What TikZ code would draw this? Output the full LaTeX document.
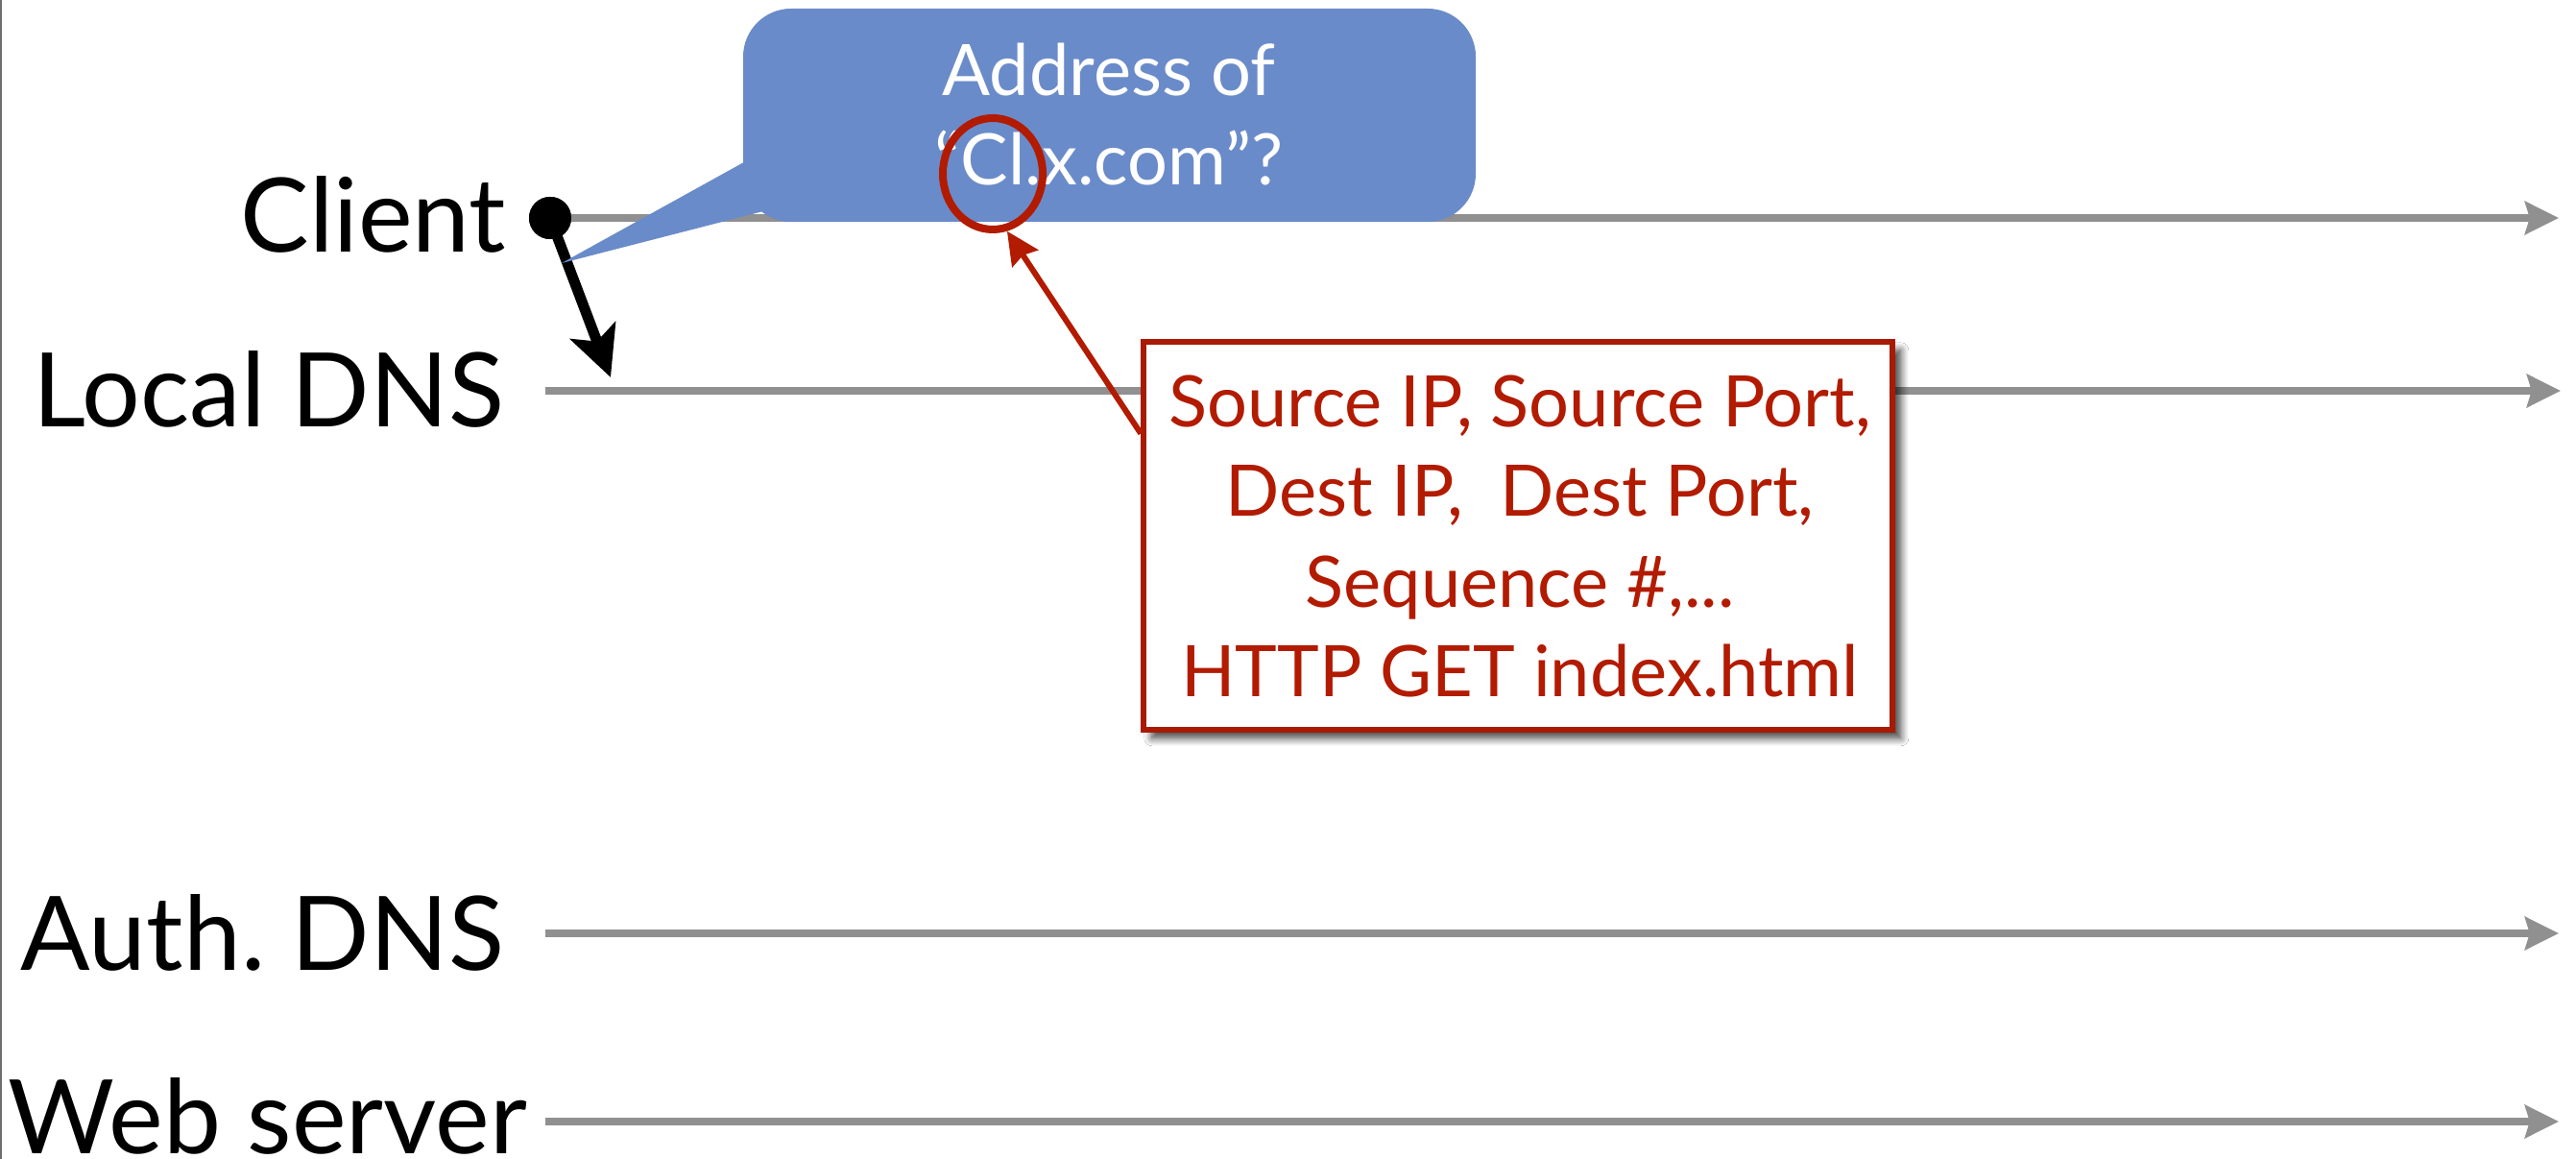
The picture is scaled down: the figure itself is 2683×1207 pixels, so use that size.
\documentclass[tikz,border=0pt]{standalone}
\usepackage{fontspec}
\setmainfont{Lato}
\usetikzlibrary{arrows.meta,shadows,shadows.blur,calc,shapes.geometric}
\definecolor{lanegray}{HTML}{909090}
\definecolor{callblue}{HTML}{6A8BC9}
\definecolor{pktred}{HTML}{B21B00}
\definecolor{pktborder}{HTML}{A81A02}
\definecolor{framegray}{HTML}{6E6E6E}
\frenchspacing

\begin{document}
\begin{tikzpicture}[x=0.25pt,y=-0.25pt,
  lane/.style={draw=lanegray, line width=1.9pt,
    -{Stealth[length=8.75pt,width=8.5pt,inset=1.2pt]}},
  lbl/.style={font=\fontsize{26.8}{30}\selectfont, anchor=base east, inner sep=0pt},
  qtext/.style={font=\fontsize{18.5}{22}\selectfont, text=white, anchor=base, inner sep=0pt},
  ptext/.style={font=\fontsize{18.5}{22}\selectfont, text=pktred, anchor=base, inner sep=0pt},
  msg/.style={draw=black, line width=2.75pt,
    -{Stealth[length=13pt,width=12.5pt,inset=3pt]}},
  pointer/.style={draw=pktred, line width=1.5pt,
    -{Stealth[length=8.5pt,width=8pt,inset=1pt]}}]
\useasboundingbox (0,0) rectangle (2683,1207);
\fill[white] (0,0) rectangle (2683,1207);
\draw[framegray, line width=0.6pt] (1.2,0) -- (1.2,1207);

% participant names
\node[lbl] (tclient) at (528,263) {Client};
\node[lbl] (tlocal)  at (526,445) {Local DNS};
\node[lbl] (tauth)   at (526,1010) {Auth. DNS};
\node[lbl, text depth=0pt] (tweb) at (550,1201) {Web server};

% time lines
\node[circle, fill=black, minimum size=11pt, inner sep=0pt] (dot) at (573,227) {};
\coordinate (cEnd)   at (2665,227);
\coordinate (lStart) at (568,407);
\coordinate (lEnd)   at (2667,407);
\coordinate (aStart) at (568,972);
\coordinate (aEnd)   at (2665,972);
\coordinate (wStart) at (568,1168);
\coordinate (wEnd)   at (2665,1168);
\draw[lane] (dot.center) -- (cEnd);
\draw[lane] (lStart) -- (lEnd);
\draw[lane] (aStart) -- (aEnd);
\draw[lane] (wStart) -- (wEnd);
\node[circle, fill=black, minimum size=11pt, inner sep=0pt] at (dot) {};

% query from client to local DNS
\coordinate (qTip) at (636,393);
\draw[msg] (dot.center) -- (qTip);

% speech bubble
\node[fill=callblue, rounded corners=12.5pt, minimum width=190.75pt,
      minimum height=55.5pt, inner sep=0pt] (callout) at (1155.5,120) {};
\coordinate (tailtip) at (585,274);
\fill[callblue] (800,155) -- (tailtip) -- (830,211) -- cycle;
\node[qtext] (q1) at (1155,100) {Address of};
\node[qtext] (q2) at (1155,193) {“Cl.x.com”?};

% packet header box
\node[draw=pktborder, line width=1.4pt, fill=white, minimum width=195pt,
      minimum height=101pt, inner sep=0pt,
      blur shadow={shadow xshift=2.2pt, shadow yshift=-2.2pt, shadow blur steps=8,
                   shadow blur radius=2pt, shadow opacity=75}]
      (pkt) at (1581,558) {};
\node[ptext] (p1) at (1583,445) {Source IP, Source Port,};
\node[ptext] (p2) at (1583,538) {Dest IP,\ \ Dest Port,};
\node[ptext] (p3) at (1583,632) {Sequence \#,...};
\node[ptext] (p4) at (1583,725) {HTTP GET index.html};

% highlighted name
\node[ellipse, draw=pktred, line width=2pt, minimum width=26pt,
      minimum height=29pt, inner sep=0pt] (circ) at (1034,181) {};
\coordinate (ptail) at ($(pkt.north west)!0.24!(pkt.south west)$);
\draw[pointer] (ptail) -- (circ.-76);
\end{tikzpicture}
\end{document}
